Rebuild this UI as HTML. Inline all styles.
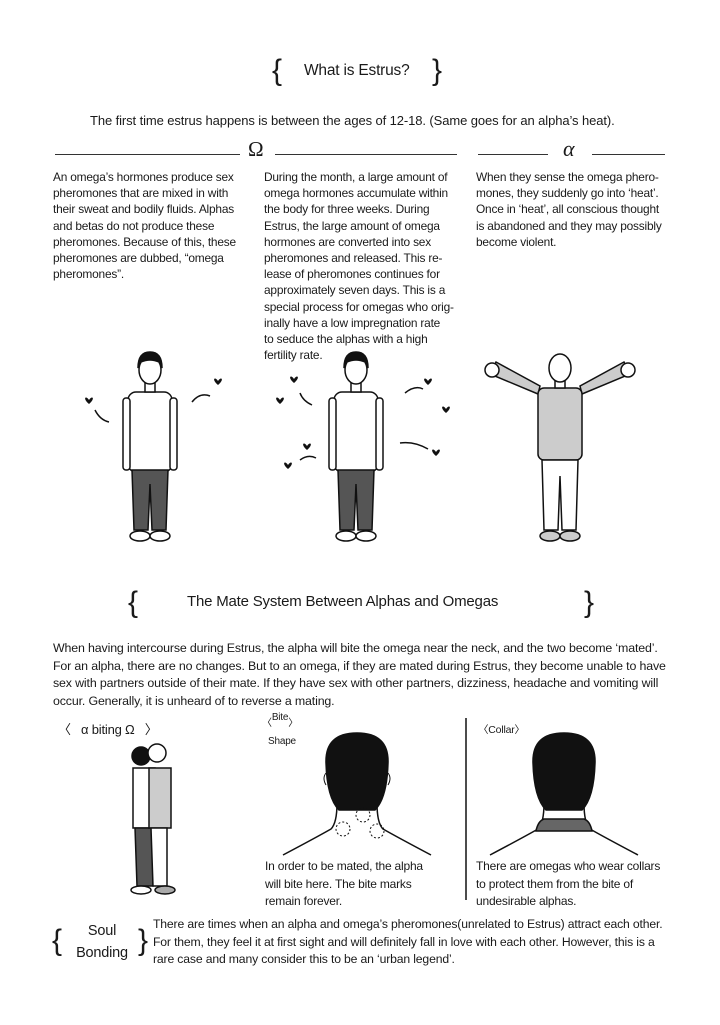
<!DOCTYPE html>
<html><head><meta charset="utf-8"><style>
body{margin:0;background:#fff;}
#p{position:relative;width:720px;height:1025px;overflow:hidden;font-family:"Liberation Sans",sans-serif;color:#1a1a1a;}
.t{position:absolute;font-size:11.6px;line-height:17.6px;white-space:nowrap;letter-spacing:-0.2px;}
.c{font-size:11.9px;line-height:16.2px;}
.b{position:absolute;font-size:30px;font-weight:300;line-height:30px;}
.hl{position:absolute;height:1px;background:#333;}
svg{position:absolute;left:0;top:0;}
</style></head><body><div id="p">
<div class="b" style="left:272px;top:56px;">{</div>
<div class="t" style="left:304px;top:62px;font-size:15.5px;">What is Estrus?</div>
<div class="b" style="left:432px;top:56px;">}</div>
<div class="t" style="left:90px;top:112px;font-size:13px;letter-spacing:-0.1px;">The first time estrus happens is between the ages of 12-18. (Same goes for an alpha’s heat).</div>
<div class="hl" style="left:55px;top:154px;width:185px;"></div>
<div class="t" style="left:248px;top:141px;font-size:21px;font-family:'Liberation Serif',serif;">Ω</div>
<div class="hl" style="left:275px;top:154px;width:182px;"></div>
<div class="hl" style="left:478px;top:154px;width:70px;"></div>
<div class="t" style="left:563px;top:140px;font-size:22px;font-family:'Liberation Serif',serif;font-style:italic;">α</div>
<div class="hl" style="left:592px;top:154px;width:73px;"></div>
<div class="t c" style="left:53px;top:169px;">An omega’s hormones produce sex<br>pheromones that are mixed in with<br>their sweat and bodily fluids. Alphas<br>and betas do not produce these<br>pheromones. Because of this, these<br>pheromones are dubbed, “omega<br>pheromones”.</div>
<div class="t c" style="left:264px;top:169px;">During the month, a large amount of<br>omega hormones accumulate within<br>the body for three weeks. During<br>Estrus, the large amount of omega<br>hormones are converted into sex<br>pheromones and released. This re-<br>lease of pheromones continues for<br>approximately seven days. This is a<br>special process for omegas who orig-<br>inally have a low impregnation rate<br>to seduce the alphas with a high<br>fertility rate.</div>
<div class="t c" style="left:476px;top:169px;">When they sense the omega phero-<br>mones, they suddenly go into ‘heat’.<br>Once in ‘heat’, all conscious thought<br>is abandoned and they may possibly<br>become violent.</div>

<svg width="720" height="1025" viewBox="0 0 720 1025" fill="none" stroke="#111" stroke-width="1.5">
<defs>
<g id="person">
<rect x="-22" y="40" width="44" height="80" rx="8" fill="#fff"/>
<rect x="-27" y="46" width="7" height="72" rx="3" fill="#fff"/>
<rect x="20" y="46" width="7" height="72" rx="3" fill="#fff"/>
<path d="M-18 118 L-16 178 L-2 178 L0 132 L2 178 L16 178 L18 118 Z" fill="#555"/>
<ellipse cx="-10" cy="184" rx="10" ry="5" fill="#fff"/>
<ellipse cx="10" cy="184" rx="10" ry="5" fill="#fff"/>
<rect x="-5" y="28" width="10" height="12" fill="#fff"/>
<ellipse cx="0" cy="18" rx="11" ry="14" fill="#fff"/>
<path d="M-12 16 Q-12 0 0 0 Q12 0 12 16 L9 10 Q0 6 -9 10 Z" fill="#111"/>
</g>
<path id="h" d="M0 3 C-3 -2 -7 1 0 7 C7 1 3 -2 0 3Z" fill="#111" stroke="none"/>
</defs>
<use href="#person" x="150" y="352"/>
<use href="#person" x="356" y="352"/>
<use href="#h" x="89" y="397"/><path d="M95 410 q5 10 14 12"/>
<use href="#h" x="218" y="378"/><path d="M192 402 q8 -10 18 -6"/>
<use href="#h" x="294" y="376"/><path d="M300 393 q3 8 12 12"/>
<use href="#h" x="280" y="397"/>
<use href="#h" x="428" y="378"/><path d="M405 393 q10 -8 18 -4"/>
<use href="#h" x="446" y="406"/>
<use href="#h" x="307" y="443"/><use href="#h" x="288" y="462"/><path d="M300 460 q8 -6 16 -2"/>
<use href="#h" x="436" y="449"/><path d="M400 443 q14 -2 28 6"/>
<g transform="translate(560,352)">
<path d="M-22 42 L-70 22 L-64 10 L-20 34 Z M22 42 L70 22 L64 10 L20 34 Z" fill="#ccc"/>
<circle cx="-68" cy="18" r="7" fill="#fff"/><circle cx="68" cy="18" r="7" fill="#fff"/>
<rect x="-22" y="36" width="44" height="72" rx="6" fill="#ccc"/>
<path d="M-18 108 L-16 178 L-2 178 L0 124 L2 178 L16 178 L18 108 Z" fill="#fff"/>
<ellipse cx="-10" cy="184" rx="10" ry="5" fill="#ccc"/>
<ellipse cx="10" cy="184" rx="10" ry="5" fill="#ccc"/>
<rect x="-5" y="26" width="10" height="10" fill="#fff"/>
<ellipse cx="0" cy="16" rx="11" ry="14" fill="#fff"/>
</g>
<!-- neck views: head top 733, hair bottom 810, shoulders 853 -->
<g transform="translate(357,733)">
<path d="M-74 122 Q-40 104 -26 96 Q-20 90 -20 70 M74 122 Q40 104 26 96 Q20 90 20 70"/>
<path d="M-31 30 Q-32 0 0 0 Q32 0 31 30 Q30 65 18 77 L-18 77 Q-30 65 -31 30Z" fill="#111"/>
<path d="M-31 40 q-4 5 0 12 M31 40 q4 5 0 12" stroke-width="1"/>
<circle cx="6" cy="82" r="7" stroke-dasharray="2 2" stroke-width="1"/>
<circle cx="-14" cy="96" r="7" stroke-dasharray="2 2" stroke-width="1"/>
<circle cx="20" cy="98" r="7" stroke-dasharray="2 2" stroke-width="1"/>
</g>
<g transform="translate(564,733)">
<path d="M-74 122 Q-40 104 -26 96 Q-20 90 -20 70 M74 122 Q40 104 26 96 Q20 90 20 70"/>
<path d="M-28 98 Q-26 88 -20 86 L20 86 Q26 88 28 98 Z" fill="#666"/>
<path d="M-31 30 Q-32 0 0 0 Q32 0 31 30 Q30 65 18 77 L-18 77 Q-30 65 -31 30Z" fill="#111"/>
</g>
<line x1="466" y1="718" x2="466" y2="900"/>
<g transform="translate(145,748)">
<rect x="-12" y="20" width="22" height="60" fill="#fff"/>
<path d="M-10 80 L-8 138 L8 138 L8 80Z" fill="#555"/>
<rect x="4" y="20" width="22" height="60" fill="#ccc"/>
<path d="M6 80 L8 138 L22 138 L22 80Z" fill="#fff"/>
<circle cx="-4" cy="8" r="9" fill="#111"/><circle cx="12" cy="5" r="9" fill="#fff"/>
<ellipse cx="-4" cy="142" rx="10" ry="4" fill="#fff"/><ellipse cx="20" cy="142" rx="10" ry="4" fill="#aaa"/>
</g>
</svg>

<div class="b" style="left:128px;top:588px;">{</div>
<div class="t" style="left:187px;top:593px;font-size:15px;">The Mate System Between Alphas and Omegas</div>
<div class="b" style="left:584px;top:588px;">}</div>
<div class="t" style="left:53px;top:640px;font-size:12.4px;letter-spacing:-0.15px;">When having intercourse during Estrus, the alpha will bite the omega near the neck, and the two become ‘mated’.<br>For an alpha, there are no changes. But to an omega, if they are mated during Estrus, they become unable to have<br>sex with partners outside of their mate. If they have sex with other partners, dizziness, headache and vomiting will<br>occur. Generally, it is unheard of to reverse a mating.</div>
<div class="t" style="left:58px;top:721px;font-size:13px;">〈 &nbsp; α biting Ω &nbsp; 〉</div>
<div class="t" style="left:262px;top:717px;font-size:10px;line-height:14px;">〈<span style="position:relative;top:-6px">Bite</span>〉</div>
<div class="t" style="left:268px;top:733px;font-size:10px;">Shape</div>
<div class="t" style="left:478px;top:722px;font-size:10.5px;">〈Collar〉</div>
<div class="t" style="left:265px;top:858px;font-size:12px;">In order to be mated, the alpha<br>will bite here. The bite marks<br>remain forever.</div>
<div class="t" style="left:476px;top:858px;font-size:12px;">There are omegas who wear collars<br>to protect them from the bite of<br>undesirable alphas.</div>
<div class="b" style="left:52px;top:926px;">{</div>
<div class="t" style="left:68px;top:920px;width:68px;font-size:14.5px;line-height:22px;text-align:center;">Soul<br>Bonding</div>
<div class="b" style="left:138px;top:926px;">}</div>
<div class="t" style="left:153px;top:916px;font-size:12.2px;letter-spacing:-0.15px;">There are times when an alpha and omega’s pheromones(unrelated to Estrus) attract each other.<br>For them, they feel it at first sight and will definitely fall in love with each other. However, this is a<br>rare case and many consider this to be an ‘urban legend’.</div>
</div></body></html>
